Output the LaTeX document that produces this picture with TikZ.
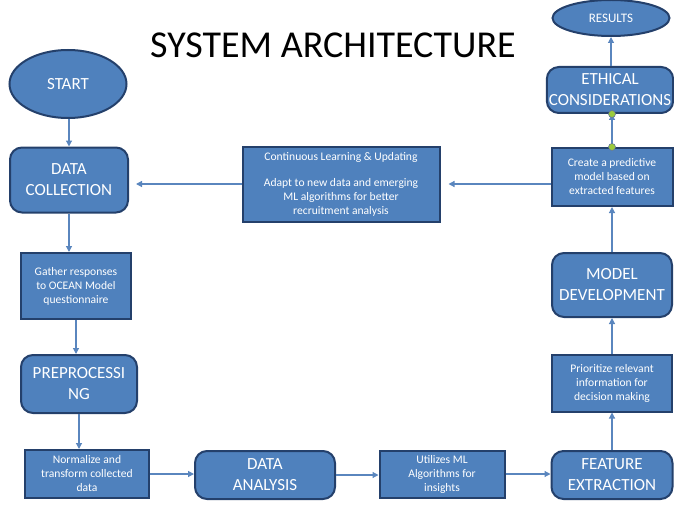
\documentclass[tikz,border=0pt]{standalone}
\usepackage{fontspec}
\setmainfont{Carlito}
\usetikzlibrary{shapes.geometric,arrows.meta}

\definecolor{boxfill}{HTML}{4F81BD}
\definecolor{boxline}{HTML}{24406B}
\definecolor{flowline}{HTML}{5A86BE}
\definecolor{handle}{HTML}{9BCB3C}

\tikzset{
  bigbox/.style={rectangle, rounded corners=6pt, draw=boxline, line width=1pt,
    fill=boxfill, text=white, align=center, inner sep=1pt,
    font=\fontsize{8.5}{10.5}\selectfont},
  smallbox/.style={rectangle, draw=boxline, line width=1pt, fill=boxfill,
    text=white, align=center, inner sep=1pt, font=\fontsize{5.8}{7}\selectfont},
  oval/.style={ellipse, draw=boxline, line width=1pt, fill=boxfill,
    text=white, inner sep=0pt, font=\fontsize{8.5}{10.5}\selectfont},
  flow/.style={draw=flowline, line width=0.6pt, -{Triangle[length=3pt,width=3pt]}},
}

\begin{document}
\begin{tikzpicture}[x=0.5pt, y=-0.5pt]
  \useasboundingbox (0,0) rectangle (674,508);

  \node (title) at (333,45) {\fontsize{19}{23}\selectfont SYSTEM ARCHITECTURE};

  % left column, going down
  \node[oval, minimum width=58.5pt, minimum height=34pt] (start) at (68,84) {START};
  \node[bigbox, minimum width=59pt, minimum height=32.5pt] (datacoll) at (69,180) {DATA\\COLLECTION};
  \node[smallbox, minimum width=55pt, minimum height=33pt] (gather) at (76,286)
    {Gather responses\\to OCEAN Model\\questionnaire};
  \node[bigbox, minimum width=58pt, minimum height=29pt] (preproc) at (79,384) {PREPROCESSI\\NG};
  \node[smallbox, minimum width=62pt, minimum height=24pt] (normalize) at (87,474)
    {Normalize and\\transform collected\\data};

  % bottom row, going right
  \node[bigbox, minimum width=70pt, minimum height=24pt] (analysis) at (265,475) {DATA\\ANALYSIS};
  \node[smallbox, minimum width=62.5pt, minimum height=23.5pt] (utilizes) at (442,474)
    {Utilizes ML\\Algorithms for\\insights};
  \node[bigbox, minimum width=60.5pt, minimum height=24pt] (feature) at (612,475) {FEATURE\\EXTRACTION};

  % right column, going up
  \node[smallbox, minimum width=60pt, minimum height=28.5pt] (prioritize) at (612,383)
    {Prioritize relevant\\information for\\decision making};
  \node[bigbox, minimum width=60pt, minimum height=32pt] (modeldev) at (612,285) {MODEL\\DEVELOPMENT};
  \node[smallbox, minimum width=60.5pt, minimum height=29pt] (predict) at (612,177)
    {Create a predictive\\model based on\\extracted features};
  \node[bigbox, minimum width=62pt, minimum height=23pt] (ethical) at (610,90) {ETHICAL\\CONSIDERATIONS};
  \node[oval, minimum width=58.5pt, minimum height=18pt] (results) at (611,18)
    {\fontsize{6.5}{8}\selectfont RESULTS};

  % feedback box
  \node[smallbox, minimum width=98.5pt, minimum height=37.5pt] (learning) at (341,184)
    {Continuous Learning \& Updating\\[6pt]Adapt to new data and emerging\\ML algorithms for better\\recruitment analysis};

  \draw[flow] (start.south -| datacoll.north) -- (datacoll.north);
  \draw[flow] (datacoll.south) -- (datacoll.south |- gather.north);
  \draw[flow] (gather.south) -- (gather.south |- preproc.north);
  \draw[flow] (preproc.south) -- (preproc.south |- normalize.north);
  \draw[flow] (normalize.east) -- (analysis.west |- normalize.east);
  \draw[flow] (analysis.east) -- (utilizes.west |- analysis.east);
  \draw[flow] (utilizes.east) -- (feature.west |- utilizes.east);
  \draw[flow] (feature.north) -- (prioritize.south);
  \draw[flow] (prioritize.north) -- (modeldev.south);
  \draw[flow] (modeldev.north) -- (predict.south);
  \draw[flow] (predict.north) -- (predict.north |- ethical.south);
  \draw[flow] (ethical.north -| results.south) -- (results.south);
  \draw[flow, shorten >=4pt] (predict.west |- learning.east) -- (learning.east);
  \draw[flow, shorten >=3.5pt] (learning.west) -- (datacoll.east |- learning.west);

  % connector handles on the ethics link
  \node[circle, fill=handle, draw=boxline!70, line width=0.3pt, inner sep=0pt,
    minimum size=3.5pt] (handletop) at (ethical.south -| predict.north) {};
  \node[circle, fill=handle, draw=boxline!70, line width=0.3pt, inner sep=0pt,
    minimum size=3.5pt] (handlebot) at (predict.north) {};
\end{tikzpicture}
\end{document}
